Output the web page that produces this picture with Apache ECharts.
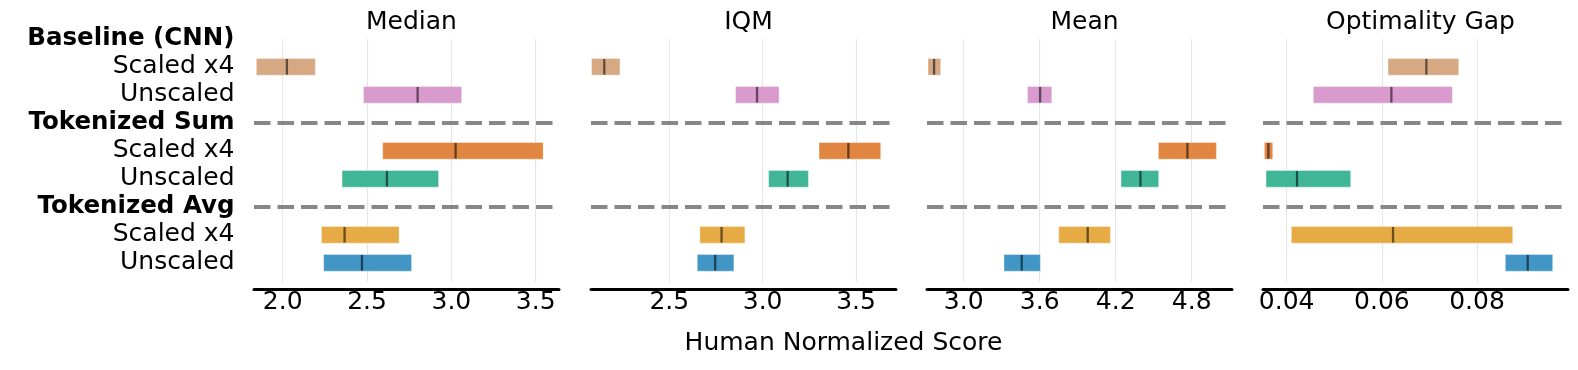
<!DOCTYPE html>
<html>
<head>
<meta charset="utf-8">
<script src="https://cdn.jsdelivr.net/npm/echarts@6/dist/echarts.min.js"></script>
<style>
html,body{margin:0;padding:0;background:#fff;}
#chart{width:1578px;height:370px;}
</style>
</head>
<body>
<div id="chart"></div>
<script>
// Row labels (top to bottom)
const rowLabels = ['Baseline (CNN)', 'Scaled x4', 'Unscaled', 'Tokenized Sum', 'Scaled x4', 'Unscaled', 'Tokenized Avg', 'Scaled x4', 'Unscaled'];
const headerRows = [0, 3, 6];
const separatorRows = [3, 6];
// Runs: row index and colour
const runRows = [1, 2, 4, 5, 7, 8];
const runColors = ['#d6a983', '#d99acd', '#e08640', '#41b696', '#e6ab44', '#4196c5'];

const panelTitles = ['Median', 'IQM', 'Mean', 'Optimality Gap'];

// Median
const medianLow  = [1.844, 2.479, 2.593, 2.352, 2.230, 2.243];
const medianHigh = [2.194, 3.061, 3.544, 2.924, 2.690, 2.764];
const medianPt   = [2.025, 2.800, 3.025, 2.618, 2.367, 2.470];
// IQM
const iqmLow  = [2.084, 2.855, 3.302, 3.032, 2.664, 2.650];
const iqmHigh = [2.236, 3.088, 3.632, 3.245, 2.905, 2.846];
const iqmPt   = [2.152, 2.970, 3.459, 3.134, 2.780, 2.746];
// Mean
const meanLow  = [2.718, 3.503, 4.537, 4.242, 3.750, 3.318];
const meanHigh = [2.818, 3.695, 4.995, 4.539, 4.158, 3.605];
const meanPt   = [2.766, 3.603, 4.766, 4.395, 3.979, 3.458];
// Optimality gap
const gapLow  = [0.0613, 0.0456, 0.03531, 0.03566, 0.04098, 0.08595];
const gapHigh = [0.07615, 0.07482, 0.03706, 0.05345, 0.0875, 0.0959];
const gapPt   = [0.06935, 0.0620, 0.03615, 0.04217, 0.06235, 0.09065];

// Tick labels
const medianTicks = [2.0, 2.5, 3.0, 3.5];
const iqmTicks = [2.5, 3.0, 3.5];
const meanTicks = [3.0, 3.6, 4.2, 4.8];
const gapTicks = [0.04, 0.06, 0.08];

const panels = [
  {low: medianLow, high: medianHigh, pt: medianPt, ticks: medianTicks, min: 1.830, max: 3.638, dec: 1},
  {low: iqmLow, high: iqmHigh, pt: iqmPt, ticks: iqmTicks, min: 2.081, max: 3.714, dec: 1},
  {low: meanLow, high: meanHigh, pt: meanPt, ticks: meanTicks, min: 2.710, max: 5.118, dec: 1},
  {low: gapLow, high: gapHigh, pt: gapPt, ticks: gapTicks, min: 0.03502, max: 0.09912, dec: 2}
];

const FONT = 'DejaVu Sans';
const gridLefts = [254, 591, 927, 1263];
const gridW = 305, gridTop = 38.8, gridH = 243.4;
const barH = 16.7;

const grids = [], xAxes = [], yAxes = [], series = [], titles = [];

panels.forEach((p, i) => {
  grids.push({left: gridLefts[i], top: gridTop, width: gridW, height: gridH, containLabel: false});
  xAxes.push({
    type: 'value', gridIndex: i, min: p.min, max: p.max,
    offset: 6.8,
    axisLine: {show: true, onZero: false, lineStyle: {color: '#000', width: 3}},
    axisTick: {show: false},
    splitLine: {show: false},
    axisLabel: {
      customValues: p.ticks,
      formatter: v => Number(v).toFixed(p.dec),
      fontFamily: FONT, fontSize: 25, color: '#000', margin: 1
    }
  });
  yAxes.push({
    type: 'value', gridIndex: i, inverse: true, min: 0, max: 8.693, interval: 1,
    axisLine: {show: false}, axisTick: {show: false}, splitLine: {show: false},
    axisLabel: i === 0 ? {
      show: true, margin: 19.5, showMaxLabel: false,
      formatter: v => {
        const k = Math.round(v);
        if (Math.abs(v - k) > 1e-6 || k < 0 || k >= rowLabels.length) return '';
        return headerRows.includes(k) ? '{b|' + rowLabels[k] + '}' : '{r|' + rowLabels[k] + '}';
      },
      rich: {
        b: {fontFamily: FONT, fontSize: 24.5, fontWeight: 'bold', color: '#000'},
        r: {fontFamily: FONT, fontSize: 25, color: '#000'}
      }
    } : {show: false}
  });
  // gridlines + separators
  series.push({
    type: 'line', xAxisIndex: i, yAxisIndex: i, data: [], silent: true, z: 1,
    markLine: {
      silent: true, symbol: ['none', 'none'], animation: false,
      label: {show: false},
      data: p.ticks.map(t => ({xAxis: t, lineStyle: {color: '#e6e6e6', width: 1.2, type: 'solid'}}))
        .concat(separatorRows.map(r => ({yAxis: r, lineStyle: {color: '#878787', width: 4.2, type: [16.5, 7]}})))
    }
  });
  // interval bars
  const data = runRows.map((r, k) => ({value: [p.low[k], p.high[k], p.pt[k], r], itemStyle: {color: runColors[k]}}));
  series.push({
    type: 'custom', xAxisIndex: i, yAxisIndex: i, z: 5, animation: false,
    encode: {x: [0, 1, 2], y: 3},
    data: data,
    renderItem: (params, api) => {
      const lo = api.value(0), hi = api.value(1), md = api.value(2), row = api.value(3);
      const a = api.coord([lo, row]), b = api.coord([hi, row]), m = api.coord([md, row]);
      const color = runColors[params.dataIndex];
      return {
        type: 'group', children: [
          {type: 'rect', shape: {x: a[0], y: a[1] - barH / 2, width: b[0] - a[0], height: barH},
           style: {fill: color, stroke: 'rgba(255,255,255,0.35)', lineWidth: 1}},
          {type: 'line', shape: {x1: m[0], y1: a[1] - barH / 2 + 0.5, x2: m[0], y2: a[1] + barH / 2 - 0.5},
           style: {stroke: 'rgba(0,0,0,0.55)', lineWidth: 2.3}}
        ]
      };
    }
  });
  titles.push({
    text: panelTitles[i], left: gridLefts[i] + gridW / 2, top: 5, textAlign: 'center',
    textStyle: {fontFamily: FONT, fontSize: 25, fontWeight: 'normal', color: '#000'}
  });
});

titles.push({
  text: 'Human Normalized Score', left: 838.5, top: 326, textAlign: 'center',
  textStyle: {fontFamily: FONT, fontSize: 25, fontWeight: 'normal', color: '#000'}
});

const chart = echarts.init(document.getElementById('chart'), null, {renderer: 'canvas'});
chart.setOption({
  animation: false,
  backgroundColor: '#fff',
  title: titles,
  grid: grids,
  xAxis: xAxes,
  yAxis: yAxes,
  series: series
});
</script>
</body>
</html>
